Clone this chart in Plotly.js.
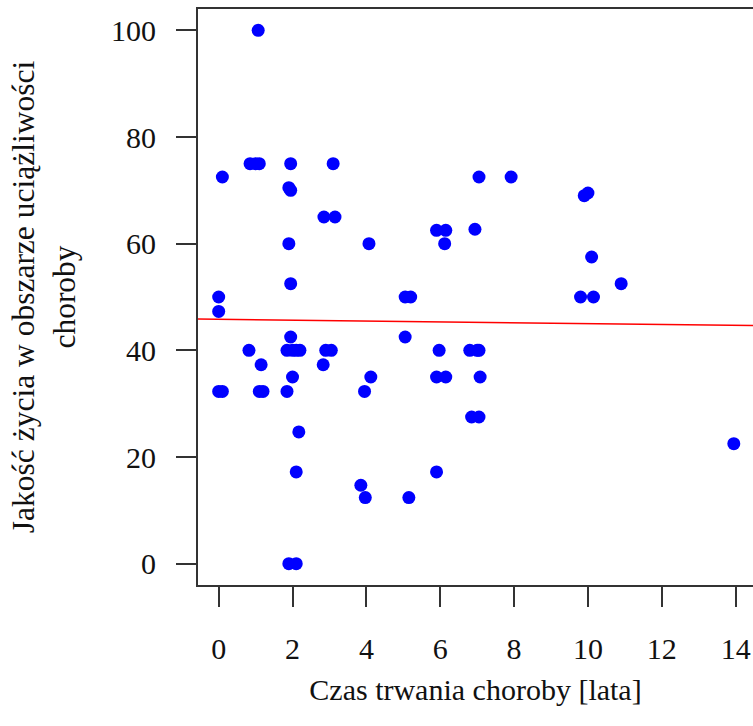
<!DOCTYPE html>
<html>
<head>
<meta charset="utf-8">
<script src="https://cdn.plot.ly/plotly-3.0.1.min.js"></script>
<style>
html,body{margin:0;padding:0;background:#fff;overflow:hidden;}
#chart{width:753px;height:726px;}
</style>
</head>
<body>
<div id="chart"></div>
<script>
// Czas trwania choroby [lata]
const durationYears = [
  1.07, 0.1, 0.85, 1.0, 1.1, 1.95, 3.1, 1.9, 1.95, 2.85,
  3.15, 1.9, 4.07, 5.9, 6.15, 6.12, 6.94, 7.05, 7.92, 9.9,
  10.0, 10.1, 10.9, 9.8, 10.15, 1.95, 0, 0, 5.05, 5.2,
  5.05, 1.95, 1.85, 2.0, 2.1, 2.2, 0.82, 2.9, 3.05, 1.15,
  2.83, 2.0, 0, 0.1, 1.1, 1.2, 1.85, 4.12, 3.95, 5.97,
  6.8, 7.0, 7.05, 5.9, 6.15, 7.08, 6.85, 7.05, 2.17, 2.1,
  5.9, 3.85, 3.97, 5.15, 1.9, 2.1, 13.95
];
// Jakość życia w obszarze uciążliwości choroby
const qualityScore = [
  100, 72.5, 75, 75, 75, 75, 75, 70.5, 70, 65,
  65, 60, 60, 62.5, 62.5, 60, 62.7, 72.5, 72.5, 69,
  69.5, 57.5, 52.5, 50, 50, 52.5, 50, 47.3, 50, 50,
  42.5, 42.5, 40, 40, 40, 40, 40, 40, 40, 37.3,
  37.3, 35, 32.3, 32.3, 32.3, 32.3, 32.3, 35, 32.3, 40,
  40, 40, 40, 35, 35, 35, 27.5, 27.5, 24.7, 17.2,
  17.2, 14.7, 12.4, 12.4, 0, 0, 22.5
];
// fitted regression line (abline)
const fitIntercept = 45.82;
const fitSlope = -0.081;
const xTicks = [0, 2, 4, 6, 8, 10, 12, 14];
const yTicks = [0, 20, 40, 60, 80, 100];
const xTitle = 'Czas trwania choroby [lata]';
const yTitle = 'Jakość życia w obszarze uciążliwości<br>choroby';

const xRange = [-0.56, 14.47];
const yRange = [-4, 104];
const lineX = [xRange[0] - 1, xRange[1] + 1];
const lineY = lineX.map(v => fitIntercept + fitSlope * v);

const FONT = 'Liberation Serif, Times New Roman, serif';
const AX = '#333';
const TXT = '#111';

const traces = [
  {
    x: durationYears, y: qualityScore, type: 'scatter', mode: 'markers',
    marker: {color: '#0000FF', size: 13, line: {width: 0}},
    hoverinfo: 'x+y', showlegend: false, cliponaxis: true
  },
  {
    x: lineX, y: lineY, type: 'scatter', mode: 'lines',
    line: {color: '#FF0000', width: 1.5}, showlegend: false, hoverinfo: 'skip'
  }
];

const layout = {
  width: 753, height: 726,
  margin: {l: 198, r: 0, t: 9, b: 141},
  paper_bgcolor: '#fff', plot_bgcolor: '#fff',
  font: {family: FONT, size: 30, color: TXT},
  showlegend: false,
  xaxis: {
    range: xRange, tickmode: 'array', tickvals: xTicks, ticktext: xTicks.map(String),
    showgrid: false, zeroline: false, showline: true, mirror: true,
    linecolor: AX, linewidth: 2,
    ticks: 'outside', ticklen: 20, tickwidth: 2, tickcolor: AX,
    ticklabelstandoff: 16,
    tickfont: {family: FONT, size: 30, color: TXT},
    title: {text: xTitle, font: {family: FONT, size: 30, color: TXT}, standoff: 15}
  },
  yaxis: {
    range: yRange, tickmode: 'array', tickvals: yTicks, ticktext: yTicks.map(String),
    showgrid: false, zeroline: false, showline: true, mirror: false,
    linecolor: AX, linewidth: 2,
    ticks: 'outside', ticklen: 20, tickwidth: 2, tickcolor: AX,
    ticklabelstandoff: 14,
    tickfont: {family: FONT, size: 30, color: TXT},
    title: {text: yTitle, font: {family: FONT, size: 31.5, color: TXT}, standoff: 26}
  }
};

Plotly.newPlot('chart', traces, layout, {staticPlot: true, displayModeBar: false});
</script>
</body>
</html>
